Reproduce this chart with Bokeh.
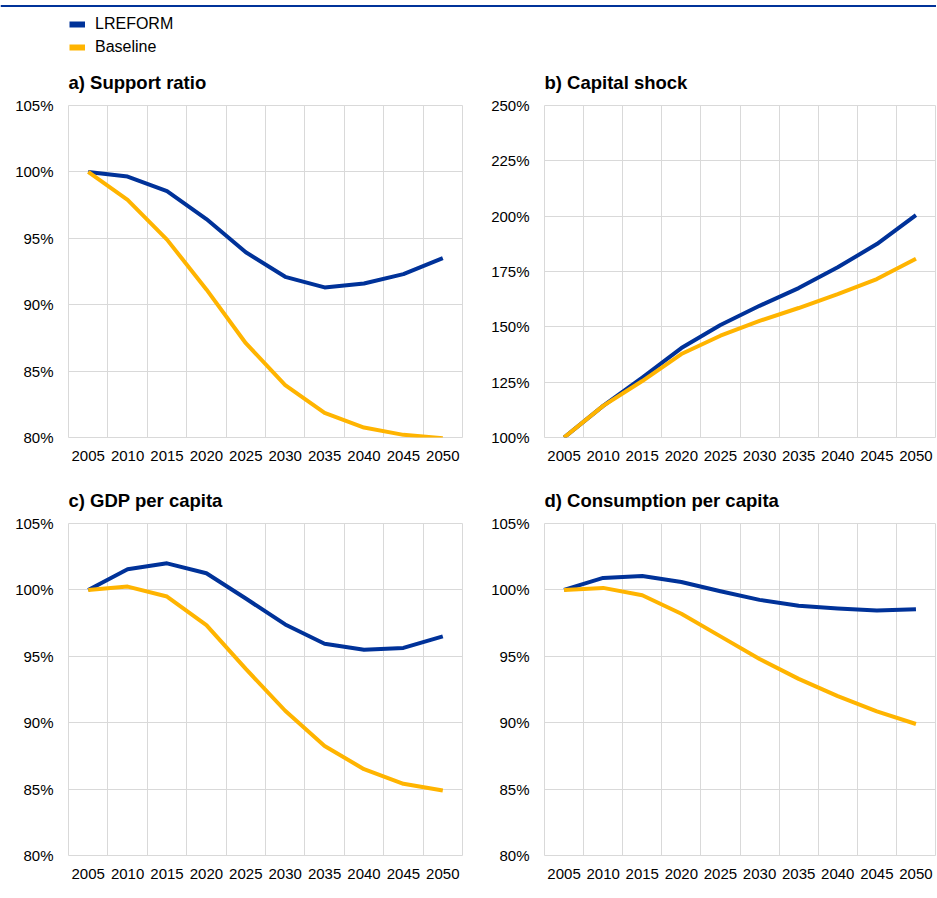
from bokeh.plotting import figure
from bokeh.layouts import column, row
from bokeh.models import (Range1d, FixedTicker, PrintfTickFormatter, Legend,
                          LegendItem, Span, ColumnDataSource)
from bokeh.embed import file_html
from bokeh.resources import INLINE

# ---------------- data ----------------
years = [2005, 2010, 2015, 2020, 2025, 2030, 2035, 2040, 2045, 2050]
series_names = ["LREFORM", "Baseline"]

support_lreform = [100.0, 99.65, 98.55, 96.45, 93.95, 92.1, 91.3, 91.6, 92.3, 93.5]
support_baseline = [100.0, 97.9, 94.9, 91.15, 87.1, 83.95, 81.85, 80.75, 80.2, 79.95]

capital_lreform = [100.0, 114.3, 127.1, 140.4, 150.8, 159.5, 167.5, 176.9, 187.4, 200.5]
capital_baseline = [100.0, 114.3, 125.5, 137.7, 146.0, 152.7, 158.5, 164.8, 171.6, 180.8]

gdp_lreform = [100.0, 101.55, 102.0, 101.25, 99.35, 97.4, 95.95, 95.5, 95.63, 96.5]
gdp_baseline = [100.0, 100.25, 99.5, 97.35, 94.05, 90.9, 88.25, 86.5, 85.4, 84.9]

cons_lreform = [100.0, 100.9, 101.05, 100.6, 99.9, 99.25, 98.8, 98.6, 98.45, 98.55]
cons_baseline = [100.0, 100.15, 99.6, 98.2, 96.5, 94.8, 93.3, 92.0, 90.85, 89.9]

titles = ["a) Support ratio", "b) Capital shock", "c) GDP per capita", "d) Consumption per capita"]
yticks_pct = [80, 85, 90, 95, 100, 105]
yticks_cap = [100, 125, 150, 175, 200, 225, 250]

# ---------------- style ----------------
BLUE = "#003299"
YELLOW = "#FFB400"
GRID = "#D9D9D9"
FONT = "Liberation Sans"
TXT = "#000000"


def panel(title, lre, base, yticks, width, height, bl, br, bt, bb):
    step = years[1] - years[0]
    p = figure(width=width, height=height, output_backend="svg", toolbar_location=None,
               x_range=Range1d(years[0] - step / 2, years[-1] + step / 2),
               y_range=Range1d(yticks[0], yticks[-1]),
               min_border_left=bl, min_border_right=br, min_border_top=bt, min_border_bottom=bb,
               title=title)
    p.title.align = "left"
    p.title.text_font = FONT
    p.title.text_font_size = "18.5px"
    p.title.text_font_style = "bold"
    p.title.text_color = TXT
    p.title.standoff = 25
    p.background_fill_color = "white"
    p.border_fill_color = "white"
    p.outline_line_color = GRID

    src = ColumnDataSource(dict(year=years, lre=lre, base=base))
    p.line(x="year", y="lre", source=src, line_color=BLUE, line_width=4, line_join="round")
    p.line(x="year", y="base", source=src, line_color=YELLOW, line_width=4, line_join="round")

    p.xaxis.ticker = FixedTicker(ticks=years)
    p.xgrid.ticker = FixedTicker(ticks=[y - step / 2 for y in years] + [years[-1] + step / 2])
    p.yaxis.ticker = FixedTicker(ticks=yticks)
    p.yaxis.formatter = PrintfTickFormatter(format="%d%%")
    p.grid.grid_line_color = GRID
    p.grid.grid_line_width = 1

    for ax in (p.xaxis, p.yaxis):
        ax.axis_line_color = None
        ax.major_tick_line_color = None
        ax.minor_tick_line_color = None
        ax.major_tick_out = 0
        ax.major_tick_in = 0
        ax.minor_tick_out = 0
        ax.major_label_text_font = FONT
        ax.major_label_text_font_size = "15px"
        ax.major_label_text_color = TXT
    p.xaxis.major_label_standoff = 13
    p.yaxis.major_label_standoff = 15
    return p


# ---------------- header (legend + top rule) ----------------
HDR_H = 56
hdr = figure(width=936, height=HDR_H, output_backend="svg", toolbar_location=None,
             x_range=Range1d(0, 936), y_range=Range1d(0, HDR_H), min_border=0,
             x_axis_location=None, y_axis_location=None)
hdr.grid.visible = False
hdr.outline_line_color = None
hdr.background_fill_color = "white"
hdr.border_fill_color = "white"
hdr.add_layout(Span(location=HDR_H - 5.5, dimension="width", line_color=BLUE, line_width=2))
# legend proxies: real series, lying outside the header's visible range
r1 = hdr.line(x=years, y=support_lreform, line_color=BLUE, line_width=6)
r2 = hdr.line(x=years, y=support_baseline, line_color=YELLOW, line_width=6)
leg = Legend(items=[LegendItem(label=series_names[0], renderers=[r1]),
                    LegendItem(label=series_names[1], renderers=[r2])],
             location=(69, 0), orientation="vertical",
             glyph_width=16, glyph_height=16, label_height=16, label_standoff=10,
             spacing=5, padding=0, margin=0, border_line_color=None,
             background_fill_alpha=0, label_text_font=FONT,
             label_text_font_size="16px", label_text_color=TXT)
hdr.add_layout(leg)

pa = panel(titles[0], support_lreform, support_baseline, yticks_pct, 476, 419, 68, 14, 49, 38)
pb = panel(titles[1], capital_lreform, capital_baseline, yticks_cap, 460, 419, 68, 1, 49, 38)
pc = panel(titles[2], gdp_lreform, gdp_baseline, yticks_pct, 476, 422, 68, 14, 48, 42)
pd = panel(titles[3], cons_lreform, cons_baseline, yticks_pct, 460, 422, 68, 1, 48, 42)

layout = column(hdr, row(pa, pb), row(pc, pd))

with open("out.html", "w") as f:
    f.write(file_html(layout, INLINE))
